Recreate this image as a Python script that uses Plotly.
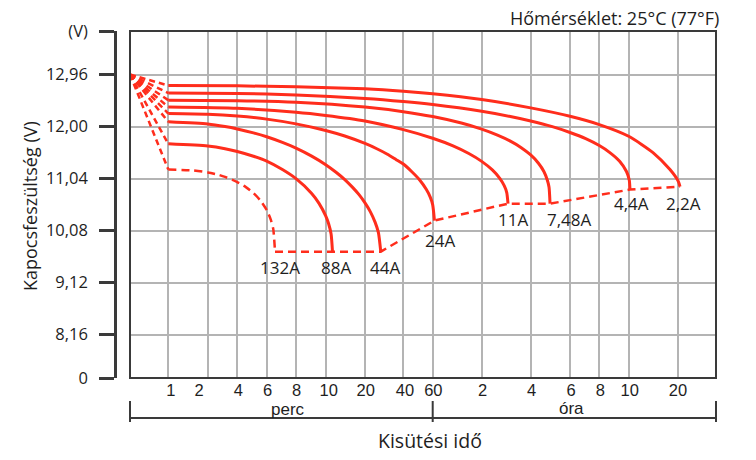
import numpy as np
import plotly.graph_objects as go

# ---------------- data ----------------
# discharge time axis ticks (minutes) and their labels
tick_minutes = [1, 2, 4, 6, 8, 10, 20, 40, 60, 120, 240, 360, 480, 600, 1200]
tick_labels = ["1", "2", "4", "6", "8", "10", "20", "40", "60",
               "2", "4", "6", "8", "10", "20"]

# voltage ticks
v_ticks = [7.361, 8.16, 9.12, 10.08, 11.04, 12.00, 12.96, 13.763]
v_labels = ["0", "8,16", "9,12", "10,08", "11,04", "12,00", "12,96", "(V)"]

origin_t = 0.0
origin_v = 12.96

# discharge curves: time (minutes), terminal voltage (V)
c22_t = [1, 4, 8, 20, 40, 60, 120, 240, 360, 480, 600, 846, 1076, 1210, 1240]
c22_v = [12.757, 12.751, 12.733, 12.696, 12.652, 12.604, 12.498, 12.345, 12.190,
         12.037, 11.821, 11.520, 11.206, 10.990, 10.892]

c44_t = [1, 4, 8, 20, 40, 60, 120, 180, 240, 300, 360, 420, 480, 520, 560, 590, 605, 611]
c44_v = [12.618, 12.611, 12.583, 12.519, 12.462, 12.406, 12.282, 12.186, 12.103,
         11.998, 11.891, 11.777, 11.649, 11.520, 11.361, 11.171, 11.009, 10.837]

c748_t = [1, 4, 8, 20, 40, 60, 90, 120, 150, 180, 210, 240, 260, 275, 285, 290, 293]
c748_v = [12.486, 12.478, 12.449, 12.360, 12.275, 12.185, 12.065, 11.952, 11.841,
          11.730, 11.610, 11.476, 11.324, 11.171, 11.010, 10.881, 10.578]

c11_t = [1, 4, 8, 10, 20, 40, 60, 80, 100, 120, 140, 155, 165, 171, 174.1]
c11_v = [12.360, 12.336, 12.262, 12.203, 12.102, 11.943, 11.784, 11.644, 11.503,
         11.358, 11.195, 11.044, 10.909, 10.782, 10.578]

c24_t = [1, 2, 4, 6, 8, 10, 14, 20, 25, 30, 35, 40, 45, 50, 55, 58, 60, 61.5]
c24_v = [12.240, 12.227, 12.194, 12.137, 12.050, 11.928, 11.825, 11.688, 11.586,
         11.489, 11.393, 11.308, 11.166, 11.018, 10.837, 10.697, 10.556, 10.265]

c44a_t = [1, 2, 3, 4, 5, 6, 7, 8, 9, 10, 12, 14, 16, 18, 20, 22, 24, 25.5, 26.6]
c44a_v = [12.087, 12.046, 12.000, 11.956, 11.884, 11.812, 11.708, 11.603, 11.455,
          11.297, 11.158, 11.022, 10.883, 10.745, 10.593, 10.431, 10.237, 10.043, 9.692]

c88_t = [1, 2, 3, 4, 5, 6, 7, 8, 9, 9.5, 10, 10.5, 11, 11.27]
c88_v = [11.681, 11.640, 11.592, 11.540, 11.452, 11.363, 11.208, 11.040, 10.767,
         10.588, 10.353, 10.215, 10.017, 9.692]

c132_t = [1, 1.5, 2, 2.5, 3, 3.5, 4, 4.5, 5, 5.5, 6, 6.25, 6.4, 6.51]
c132_v = [11.206, 11.193, 11.154, 11.116, 11.071, 11.025, 10.975, 10.883, 10.772,
          10.636, 10.460, 10.278, 10.108, 9.692]

solid_names = ["2,2A", "4,4A", "7,48A", "11A", "24A", "44A", "88A"]
solid_t = [c22_t, c44_t, c748_t, c11_t, c24_t, c44a_t, c88_t]
solid_v = [c22_v, c44_v, c748_v, c11_v, c24_v, c44a_v, c88_v]

# ---------------- layout helpers ----------------
W, H = 756, 460
ML, MR, MT, MB = 115, 40, 31, 82
PW = W - ML - MR
PH = H - MT - MB
FRAME_X0 = 130
AX_LEN = 716 - FRAME_X0  # axis units == frame width

# gridline offsets for the tick times (non-uniform, as printed)
grid_off = [38.3, 77.7, 107.3, 136.7, 166.0, 195.7, 235.0, 273.3, 302.7,
            351.7, 400.7, 440.0, 469.3, 498.7, 547.7]
label_shift = [2.5, -8.5, 1.0, 1.0, 0.7, 3.0, 0.7, 1.7, 0.6, 1.0, 1.0, 1.0, 1.0, 1.0, 0.3]

LT = np.log10(tick_minutes)


def tpos(t):
    """piecewise-log time scale: minutes -> axis position"""
    t = np.asarray(t, dtype=float)
    out = np.zeros_like(t)
    pos = t > 0
    lt = np.log10(t[pos])
    v = np.interp(lt, LT, grid_off)
    hi = lt > LT[-1]
    slope = (grid_off[-1] - grid_off[-2]) / (LT[-1] - LT[-2])
    v[hi] = grid_off[-1] + (lt[hi] - LT[-1]) * slope
    out[pos] = v
    return out


def px_x(px):
    return (px - ML) / PW


def px_y(py):
    return (H - MB - py) / PH


RED = "#ff2d1c"
DARK = "#3a3a3a"
GRID = "#b4b4b4"
TXT = "#1e1e1e"

fig = go.Figure()

# fan dashed lines from origin to each curve start
for tt, vv in zip(solid_t + [c132_t], solid_v + [c132_v]):
    fig.add_trace(go.Scatter(
        x=tpos([origin_t, tt[0]]), y=[origin_v, vv[0]], mode="lines",
        line=dict(color=RED, width=2.5, dash="6px,4px"),
        showlegend=False, hoverinfo="skip"))

# 132A dashed curve
fig.add_trace(go.Scatter(
    x=tpos(c132_t), y=c132_v, mode="lines",
    line=dict(color=RED, width=2.5, dash="8px,5px", shape="spline", smoothing=0.6),
    showlegend=False, hoverinfo="skip"))

# end-point connector (final voltage line)
end_order_t = [c132_t, c88_t, c44a_t, c24_t, c11_t, c748_t, c44_t, c22_t]
end_order_v = [c132_v, c88_v, c44a_v, c24_v, c11_v, c748_v, c44_v, c22_v]
fig.add_trace(go.Scatter(
    x=tpos([a[-1] for a in end_order_t]), y=[a[-1] for a in end_order_v],
    mode="lines", line=dict(color=RED, width=2.5, dash="8px,5px"),
    showlegend=False, hoverinfo="skip"))

# solid discharge curves
for name, tt, vv in zip(solid_names, solid_t, solid_v):
    fig.add_trace(go.Scatter(
        x=tpos(tt), y=vv, mode="lines", name=name,
        line=dict(color=RED, width=3, shape="spline", smoothing=0.6),
        showlegend=False, hoverinfo="skip"))

# dummy trace for label axis
fig.add_trace(go.Scatter(x=[0], y=[None], xaxis="x2", mode="lines",
                         showlegend=False, hoverinfo="skip"))

# curve labels
label_names = ["132A", "88A", "44A", "24A", "11A", "7,48A", "4,4A", "2,2A"]
label_dx = [5, 4, 4.6, 6, 5, 19, 2, 3]
label_dy = [16, 16, 16, 20, 16, 16, 14, 17]
for nm, tt, vv, dx, dy in zip(label_names, end_order_t, end_order_v, label_dx, label_dy):
    fig.add_annotation(x=float(tpos([tt[-1]])[0]) + dx, y=vv[-1], xref="x", yref="y",
                       text=nm, showarrow=False, yshift=-dy,
                       xanchor="center", yanchor="middle",
                       font=dict(family="Open Sans", size=17, color=TXT))

# frame
fig.add_shape(type="rect", xref="x domain", yref="y domain", x0=0, x1=1, y0=0, y1=1,
              line=dict(color=DARK, width=2), layer="above")

# bottom bracket
br_y = px_y(418)
fig.add_shape(type="line", xref="paper", yref="paper", x0=px_x(130), x1=px_x(716),
              y0=br_y, y1=br_y, line=dict(color=DARK, width=2))
for bx in [130, 432.7, 716]:
    fig.add_shape(type="line", xref="paper", yref="paper", x0=px_x(bx), x1=px_x(bx),
                  y0=px_y(401), y1=px_y(422), line=dict(color=DARK, width=2))


def txt(x, y, s, size, family, **kw):
    fig.add_annotation(x=px_x(x), y=px_y(y), xref="paper", yref="paper", text=s,
                       showarrow=False, xanchor=kw.pop("xanchor", "center"),
                       yanchor="middle", font=dict(family=family, size=size, color=TXT),
                       **kw)


txt(288, 409.5, "perc", 17, "Liberation Sans")
txt(571.7, 408.5, "óra", 17, "Liberation Sans")
txt(430, 440.5, "Kisütési idő", 19.5, "Open Sans")
txt(30, 206, "Kapocsfeszültség (V)", 18, "Open Sans", textangle=-90)
txt(721, 17.5, "Hőmérséklet: 25°C (77°F)", 18, "Open Sans", xanchor="right")

dom0 = (FRAME_X0 - ML) / PW
fig.update_layout(
    width=W, height=H,
    margin=dict(l=ML, r=MR, t=MT, b=MB),
    paper_bgcolor="white", plot_bgcolor="white",
    xaxis=dict(domain=[dom0, 1], range=[0, AX_LEN], tickmode="array",
               tickvals=grid_off, showticklabels=False, ticks="",
               showgrid=True, gridcolor=GRID, gridwidth=1.5, zeroline=False,
               showline=False, fixedrange=True),
    xaxis2=dict(domain=[dom0, 1], range=[0, AX_LEN], overlaying="x", anchor="y",
                side="bottom", tickmode="array",
                tickvals=[g + s for g, s in zip(grid_off, label_shift)],
                ticktext=tick_labels, ticks="", showgrid=False, zeroline=False,
                showline=False, ticklabelstandoff=0,
                tickfont=dict(family="Liberation Sans", size=16.5, color=TXT)),
    yaxis=dict(anchor="free", position=0, range=[v_ticks[0], v_ticks[-1]],
               tickmode="array", tickvals=v_ticks, ticktext=v_labels,
               ticks="outside", ticklen=15, tickwidth=2.5, tickcolor=DARK,
               showline=True, linecolor=DARK, linewidth=2.5,
               showgrid=True, gridcolor=GRID, gridwidth=1.5, zeroline=False,
               ticklabelstandoff=8,
               tickfont=dict(family="Open Sans", size=16.5, color=TXT)),
)

fig.write_html("out.html")
